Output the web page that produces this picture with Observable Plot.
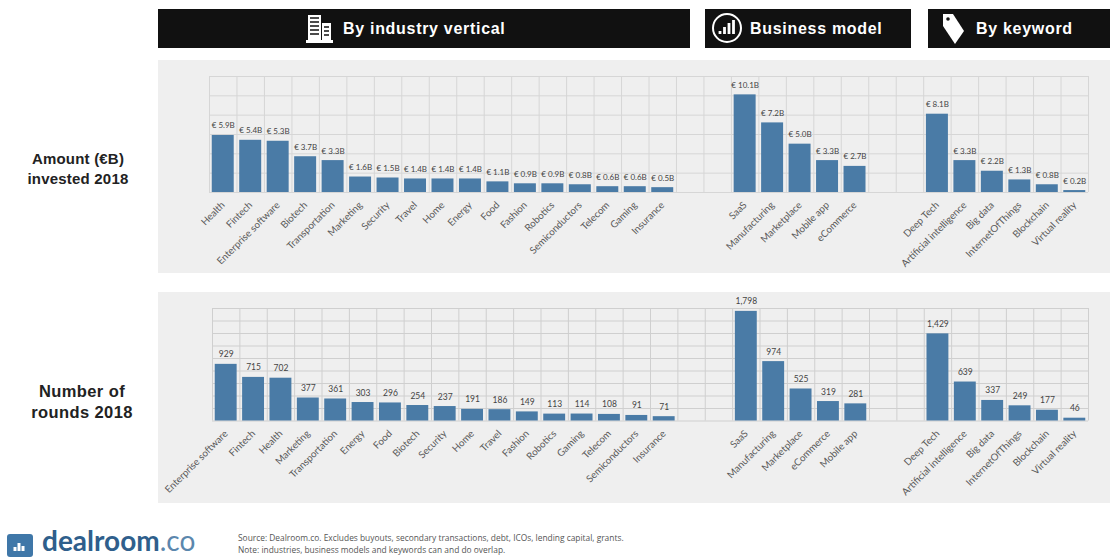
<!DOCTYPE html>
<html>
<head>
<meta charset="utf-8">
<script src="https://cdn.jsdelivr.net/npm/d3@7"></script>
<script src="https://cdn.jsdelivr.net/npm/@observablehq/plot@0.6"></script>
<style>
html,body{margin:0;padding:0;background:#fff;}
body{position:relative;width:1110px;height:558px;overflow:hidden;font-family:"Liberation Sans",Arial,sans-serif;}
.head{position:absolute;top:9px;height:39px;background:#111;color:#fff;font:bold 16px "Liberation Sans",Arial,sans-serif;letter-spacing:.7px;display:flex;align-items:center;}
.head svg{position:absolute;top:0;left:0;overflow:visible;}
.head span{position:absolute;top:11px;white-space:nowrap;}
.panel{position:absolute;left:158px;width:952px;background:#efefef;}
.panel svg{display:block;background:transparent;}
.side{position:absolute;left:0;width:164px;text-align:center;font:bold 15px/20px "Liberation Sans",Arial,sans-serif;color:#222;letter-spacing:.2px;}
.note{position:absolute;left:238px;top:532px;font:8.4px/12px "Open Sans",sans-serif;color:#555;white-space:nowrap;}
.logo{position:absolute;left:7px;top:534px;width:26px;height:23px;background:#3f77a8;border-radius:3px;}
.brand{position:absolute;left:42px;top:526px;height:28px;font:700 28px/28px Lato,sans-serif;color:#2f5f8c;letter-spacing:0;white-space:nowrap;}
.brand i{font-style:normal;font-weight:400;color:#5b87ad;}
</style>
</head>
<body>
<div class="head" style="left:158px;width:532px">
  <svg width="40" height="39" style="left:146px" fill="#fff"><path d="M4 6h13v25H4zM18 14h9v17h-9zM2 31h27v3H2z"/><path d="M6 9h9M6 13h9M6 17h9M6 21h9M6 25h9M20 18h5M20 22h5M20 26h5" stroke="#111" stroke-width="1.5"/></svg>
  <span style="left:185px">By industry vertical</span>
</div>
<div class="head" style="left:705px;width:206px">
  <svg width="38" height="39" style="left:7px"><circle cx="15" cy="19" r="14" fill="none" stroke="#fff" stroke-width="2"/><path d="M8 25v-3M12.500 25v-7M17 25v-11M21.500 25v-14" stroke="#fff" stroke-width="2.800"/></svg>
  <span style="left:45px">Business model</span>
</div>
<div class="head" style="left:928px;width:182px">
  <svg width="34" height="39" style="left:13px" fill="#fff"><path d="M2 5h10l11 17-9 13L2 17z"/><circle cx="7" cy="10" r="1.800" fill="#111"/></svg>
  <span style="left:48px">By keyword</span>
</div>

<div class="side" style="top:149px;width:156px">Amount (€B)<br>invested 2018</div>
<div class="side" style="top:381px;font-size:16.5px;line-height:21px;letter-spacing:.4px">Number of<br>rounds 2018</div>

<div class="panel" id="amount" style="top:60px;height:213px"></div>
<div class="panel" id="rounds" style="top:292px;height:211px"></div>

<div class="logo"><svg width="26" height="23"><path d="M8 17v-4M12 17v-8M16 17v-5" stroke="#fff" stroke-width="3"/></svg></div>
<div class="brand">dealroom<i>.co</i></div>
<div class="note">Source: Dealroom.co. Excludes buyouts, secondary transactions, debt, ICOs, lending capital, grants.<br>Note: industries, business models and keywords can and do overlap.</div>

<script>
const amountCategories = ["Health","Fintech","Enterprise software","Biotech","Transportation","Marketing","Security","Travel","Home","Energy","Food","Fashion","Robotics","Semiconductors","Telecom","Gaming","Insurance"];
const amountValues = [5.9,5.4,5.3,3.7,3.3,1.6,1.5,1.4,1.4,1.4,1.1,0.9,0.9,0.8,0.6,0.6,0.5];
const amountModels = ["SaaS","Manufacturing","Marketplace","Mobile app","eCommerce"];
const amountModelValues = [10.1,7.2,5.0,3.3,2.7];
const amountKeywords = ["Deep Tech","Artificial intelligence","Big data","InternetOfThings","Blockchain","Virtual reality"];
const amountKeywordValues = [8.1,3.3,2.2,1.3,0.8,0.2];

const roundCategories = ["Enterprise software","Fintech","Health","Marketing","Transportation","Energy","Food","Biotech","Security","Home","Travel","Fashion","Robotics","Gaming","Telecom","Semiconductors","Insurance"];
const roundValues = [929,715,702,377,361,303,296,254,237,191,186,149,113,114,108,91,71];
const roundModels = ["SaaS","Manufacturing","Marketplace","eCommerce","Mobile app"];
const roundModelValues = [1798,974,525,319,281];
const roundKeywords = ["Deep Tech","Artificial intelligence","Big data","InternetOfThings","Blockchain","Virtual reality"];
const roundKeywordValues = [1429,639,337,249,177,46];

const amountTicks = [0,2,4,6,8,10,12];
const roundTicks = [0,205,410,615,820,1025,1230,1435,1640,1845];

const fontLabel = "Lato, 'Open Sans', sans-serif";

function drawPanel(el, groups, cfg){
  const rows = [], domain = [];
  groups.forEach((g, gi) => {
    g.names.forEach((n, i) => {
      const key = gi + ":" + n;
      domain.push(key);
      rows.push({key, name: n, value: g.values[i]});
    });
    if (gi < groups.length - 1) { domain.push("gap" + gi + "a", "gap" + gi + "b"); }
  });
  const step = (952 - cfg.marginLeft - cfg.marginRight) / domain.length;
  const names = new Map(rows.map(r => [r.key, r.name]));
  const chart = Plot.plot({
    width: 952, height: cfg.height,
    marginLeft: cfg.marginLeft, marginRight: cfg.marginRight,
    marginTop: cfg.marginTop, marginBottom: cfg.marginBottom,
    style: {background: "transparent", overflow: "visible"},
    x: {type: "band", domain, paddingInner: 0.2, paddingOuter: 0.1, round: false, label: null},
    y: {domain: cfg.yDomain, label: null},
    marks: [
      Plot.ruleY(cfg.ticks, {stroke: cfg.grid, strokeWidth: 1}),
      Plot.ruleX(domain, {x: d => d, dx: -step / 2, stroke: cfg.grid, strokeWidth: 1, y1: cfg.yDomain[0], y2: cfg.yDomain[1]}),
      Plot.ruleX(domain.slice(-1), {x: d => d, dx: step / 2, stroke: cfg.grid, strokeWidth: 1, y1: cfg.yDomain[0], y2: cfg.yDomain[1]}),
      Plot.barY(rows, {x: "key", y: "value", fill: "#4a7ba6"}),
      Plot.text(rows, {x: "key", y: "value", text: d => cfg.format(d.value), dy: cfg.labelDy, lineAnchor: "bottom", fontSize: cfg.labelSize, fontFamily: fontLabel, fill: "#444"}),
      Plot.axisY({ticks: [], label: null, tickSize: 0}),
      Plot.axisX({
        ticks: rows.map(r => r.key),
        tickFormat: k => names.get(k),
        tickRotate: -45, tickSize: 0, tickPadding: cfg.tickPadding,
        label: null, fontSize: cfg.tickSize, fontFamily: fontLabel, fill: "#5a5a5a", stroke: "none"
      })
    ]
  });
  el.appendChild(chart);
}

drawPanel(document.getElementById("amount"), [
  {names: amountCategories, values: amountValues},
  {names: amountModels, values: amountModelValues},
  {names: amountKeywords, values: amountKeywordValues}
], {height: 213, marginLeft: 51, marginRight: 22, marginTop: 16, marginBottom: 81,
    yDomain: [0,12], ticks: amountTicks, grid: "#d6d6d6",
    format: v => "€ " + v.toFixed(1) + "B", labelDy: -7, labelSize: 8, tickSize: 9.8, tickPadding: 11});

drawPanel(document.getElementById("rounds"), [
  {names: roundCategories, values: roundValues},
  {names: roundModels, values: roundModelValues},
  {names: roundKeywords, values: roundKeywordValues}
], {height: 211, marginLeft: 54, marginRight: 22, marginTop: 16, marginBottom: 82.5,
    yDomain: [0,1845], ticks: roundTicks, grid: "#cfcfcf",
    format: d3.format(","), labelDy: -7, labelSize: 8.5, tickSize: 9.8, tickPadding: 11});
</script>
</body>
</html>
